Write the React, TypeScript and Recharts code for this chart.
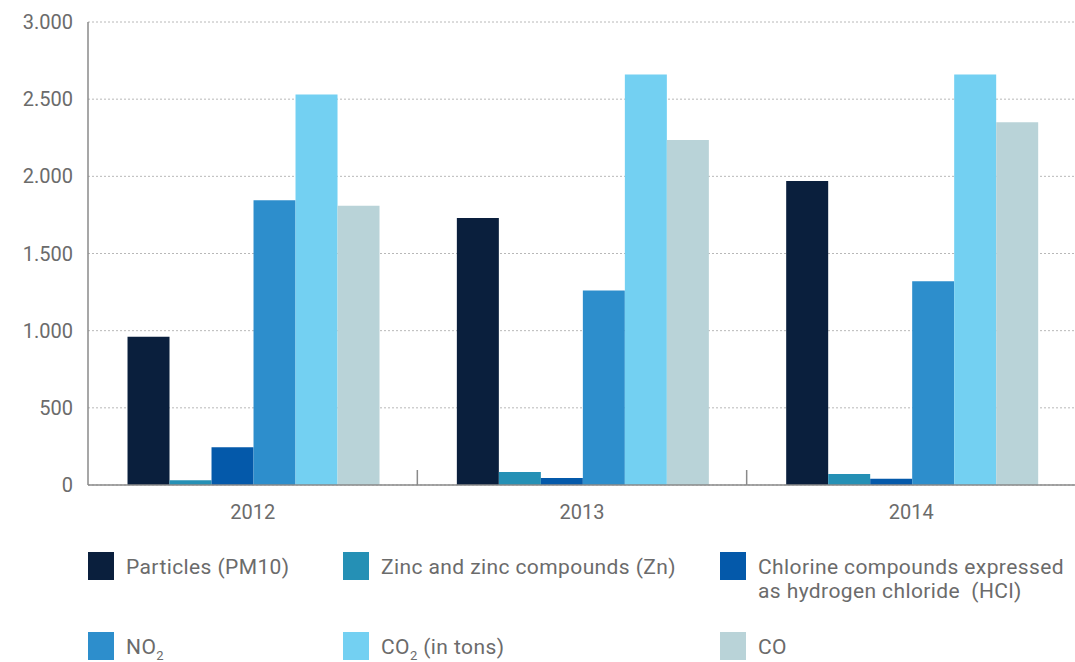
import React from 'react';
import { Bar, BarChart, CartesianGrid, XAxis, YAxis } from 'recharts';

const years = ['2012', '2013', '2014'];
const pm10 = [960, 1730, 1970];
const zinc = [30, 85, 72];
const hcl = [245, 45, 40];
const no2 = [1845, 1260, 1320];
const co2 = [2530, 2660, 2660];
const co = [1810, 2235, 2350];
const yTicks = [0, 500, 1000, 1500, 2000, 2500, 3000];

const series = [
  { key: 'pm10', color: '#0a1f3d' },
  { key: 'zinc', color: '#2590b5' },
  { key: 'hcl', color: '#0459aa' },
  { key: 'no2', color: '#2d8ecc' },
  { key: 'co2', color: '#73d0f2' },
  { key: 'co', color: '#b9d3d8' },
];

const data = years.map((year, i) => ({
  year,
  pm10: pm10[i],
  zinc: zinc[i],
  hcl: hcl[i],
  no2: no2[i],
  co2: co2[i],
  co: co[i],
}));

const FONT = 'Roboto, "DejaVu Sans", sans-serif';
const TEXT = '#6b6b6b';
const AXIS = '#8a8a8a';

const fmt = (v: number) => String(v).replace(/\B(?=(\d{3})+(?!\d))/g, '.');

const YearTick = (props: any) => {
  const { x, y, payload, index } = props;
  const edge = x + (payload.offset || 0);
  return (
    <g>
      {index < years.length - 1 && (
        <line x1={edge} x2={edge} y1={y - 15} y2={y} stroke={AXIS} strokeWidth={1.5} />
      )}
      <text x={x} y={y + 27} textAnchor="middle" dominantBaseline="central" fill={TEXT} fontSize={20} fontFamily={FONT}>
        {payload.value}
      </text>
    </g>
  );
};

const Swatch = ({ color }: { color: string }) => (
  <div style={{ width: 26, height: 28, background: color, flexShrink: 0 }} />
);

const legendText: React.CSSProperties = {
  fontFamily: FONT,
  fontSize: 21,
  letterSpacing: 0.4,
  color: TEXT,
  lineHeight: '24px',
  marginLeft: 12,
  marginTop: 3,
};

const Sub = () => <sub style={{ fontSize: 13, verticalAlign: -6 }}>2</sub>;

export default function App() {
  return (
    <div style={{ position: 'absolute', left: 0, top: 0, width: 1075, height: 662, background: '#fff' }}>
      <BarChart
        width={1076}
        height={530}
        data={data}
        margin={{ top: 22, right: 0, bottom: 0, left: 0 }}
        barCategoryGap="12%"
        barGap={0}
      >
        <CartesianGrid vertical={false} strokeDasharray="2 2" stroke="#b8b8b8" />
        <YAxis
          width={88}
          domain={[0, 3000]}
          ticks={yTicks}
          tickFormatter={fmt}
          tickLine={false}
          tickSize={0}
          tickMargin={15}
          axisLine={{ stroke: AXIS, strokeWidth: 1.5 }}
          tick={{ fill: TEXT, fontSize: 20, fontFamily: FONT }}
        />
        <XAxis
          dataKey="year"
          height={45}
          tickLine={false}
          tickSize={0}
          tickMargin={0}
          axisLine={{ stroke: AXIS, strokeWidth: 1.5 }}
          tick={<YearTick />}
        />
        {series.map((s) => (
          <Bar key={s.key} dataKey={s.key} fill={s.color} isAnimationActive={false} />
        ))}
      </BarChart>
      <div style={{ position: 'absolute', left: 88, top: 552, display: 'flex' }}>
        <Swatch color={series[0].color} />
        <div style={legendText}>Particles (PM10)</div>
      </div>
      <div style={{ position: 'absolute', left: 343, top: 552, display: 'flex' }}>
        <Swatch color={series[1].color} />
        <div style={legendText}>Zinc and zinc compounds (Zn)</div>
      </div>
      <div style={{ position: 'absolute', left: 720, top: 552, display: 'flex' }}>
        <Swatch color={series[2].color} />
        <div style={legendText}>
          Chlorine compounds expressed
          <br />
          as hydrogen chloride&nbsp; (HCl)
        </div>
      </div>
      <div style={{ position: 'absolute', left: 88, top: 632, display: 'flex' }}>
        <Swatch color={series[3].color} />
        <div style={legendText}>
          NO<Sub />
        </div>
      </div>
      <div style={{ position: 'absolute', left: 343, top: 632, display: 'flex' }}>
        <Swatch color={series[4].color} />
        <div style={legendText}>
          CO<Sub /> (in tons)
        </div>
      </div>
      <div style={{ position: 'absolute', left: 720, top: 632, display: 'flex' }}>
        <Swatch color={series[5].color} />
        <div style={legendText}>CO</div>
      </div>
    </div>
  );
}
